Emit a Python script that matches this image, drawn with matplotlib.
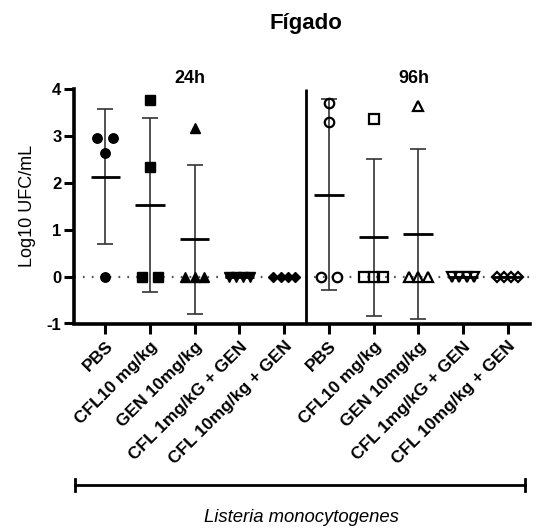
import numpy as np
import matplotlib
matplotlib.use("Agg")
import matplotlib.pyplot as plt
from matplotlib.lines import Line2D

plt.rcParams['font.family'] = ['Liberation Sans', 'DejaVu Sans']

# ---------------- data ----------------
groups = ["PBS", "CFL10 mg/kg", "GEN 10mg/kg", "CFL 1mg/kG + GEN", "CFL 10mg/kg + GEN"]
times = ["24h", "96h"]
values_24h = [
    [2.95, 2.95, 2.65, 0.0],
    [3.78, 2.35, 0.0, 0.0],
    [3.18, 0.0, 0.0, 0.0],
    [0.0, 0.0, 0.0, 0.0],
    [0.0, 0.0, 0.0, 0.0],
]
values_96h = [
    [3.70, 3.31, 0.0, 0.0],
    [3.36, 0.0, 0.0, 0.0],
    [3.64, 0.0, 0.0, 0.0],
    [0.0, 0.0, 0.0, 0.0],
    [0.0, 0.0, 0.0, 0.0],
]
markers = ["o", "s", "^", "v", "D"]
yticks = [-1, 0, 1, 2, 3, 4]
title = "Fígado"
ylabel = "Log10 UFC/mL"
bracket_label = "Listeria monocytogenes"


def spread(vals):
    vals = np.asarray(vals, dtype=float)
    off = np.zeros(len(vals))
    for v in np.unique(vals):
        idx = np.where(vals == v)[0]
        n = len(idx)
        if n > 1:
            w = 0.24 + 0.06 * n
            off[idx] = np.linspace(-w / 2, w / 2, n)
    return off


fig = plt.figure(figsize=(5.36, 5.29), dpi=100)
ax = fig.add_axes([74 / 536, 1 - 323.5 / 529, (530 - 74) / 536, (323.5 - 89.3) / 529])

ax.set_xlim(-0.7, 9.5)
ax.set_ylim(-1, 4)

# dotted zero line
ax.axhline(0, color="#555555", lw=1.6, ls=(0, (0.8, 3.2)), zorder=1)

# divider
ax.vlines(4.5, -1, 4, color="black", lw=2, zorder=2)

all_sets = [(values_24h, True), (values_96h, False)]
pos = 0
for data, filled in all_sets:
    for g, vals in enumerate(data):
        vals = np.asarray(vals)
        m = vals.mean()
        sd = vals.std(ddof=1)
        ax.errorbar(pos, m, yerr=sd, fmt="none", ecolor="#333333", elinewidth=1.2,
                    capsize=6, capthick=1.2, zorder=3)
        ax.hlines(m, pos - 0.33, pos + 0.33, color="black", lw=2, zorder=4)
        mk = markers[g]
        ms = 5 if mk == "D" else 6.8
        xs = pos + spread(vals)
        if filled:
            ax.plot(xs, vals, ls="none", marker=mk, ms=ms, mfc="black", mec="black", zorder=5)
        else:
            ax.plot(xs, vals, ls="none", marker=mk, ms=ms, mfc="none", mec="black",
                    mew=1.6, zorder=5)
        pos += 1

ax.set_xticks(range(10))
ax.set_xticklabels(groups + groups, rotation=45, ha="right", va="top",
                   rotation_mode="anchor", fontsize=12.5, fontweight="bold")
ax.set_yticks(yticks)
ax.set_yticklabels([str(t) for t in yticks], fontsize=12, fontweight="bold")

for s in ["top", "right"]:
    ax.spines[s].set_visible(False)
ax.spines["left"].set_linewidth(2.6)
ax.spines["bottom"].set_linewidth(2.6)
ax.tick_params(axis="y", width=2.2, length=7, pad=2)
ax.tick_params(axis="x", width=2.2, length=7, pad=4)

ax.set_ylabel(ylabel, fontsize=13, labelpad=8)

# time labels
ax.text(1.9, 4.05, times[0], ha="center", va="bottom", fontsize=13, fontweight="bold")
ax.text(6.9, 4.05, times[1], ha="center", va="bottom", fontsize=13, fontweight="bold")

fig.text(306 / 536, 1 - 24 / 529, title, ha="center", va="center", fontsize=16,
         fontweight="bold")

# bottom bracket
yb = 1 - 485 / 529
x0, x1 = 75 / 536, 525 / 536
fig.add_artist(Line2D([x0, x1], [yb, yb], color="black", lw=2))
for xx in (x0, x1):
    fig.add_artist(Line2D([xx, xx], [yb - 6 / 529, yb + 6 / 529], color="black", lw=2))
fig.text(301 / 536, 1 - 518 / 529, bracket_label, ha="center", va="center",
         fontsize=13.3, style="italic")

fig.savefig("out.png", dpi=100)
